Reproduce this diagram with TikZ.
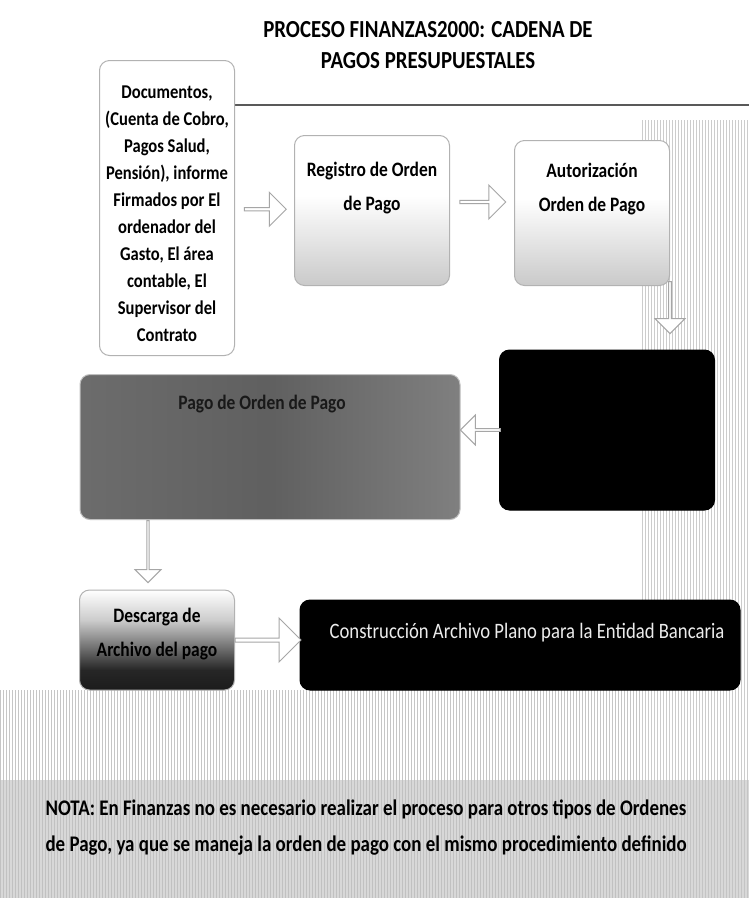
\documentclass[tikz,border=0pt]{standalone}
\usepackage{fontspec}
\setmainfont{Carlito}
\newfontfamily\cond[FakeStretch=0.85]{Carlito}
\usetikzlibrary{shapes.arrows,patterns,calc}
\pgfdeclareverticalshading{botgray}{100bp}{color(0bp)=(gray!75); color(30bp)=(gray!35); color(55bp)=(white); color(100bp)=(white)}
\pgfdeclareverticalshading{botblack}{100bp}{color(0bp)=(black); color(35bp)=(black!85); color(60bp)=(gray!40); color(75bp)=(white); color(100bp)=(white)}
\pgfdeclarehorizontalshading{mottled}{100bp}{color(0bp)=(gray!60); color(12bp)=(gray!90!black); color(50bp)=(gray!75!black); color(80bp)=(gray!95); color(100bp)=(gray!80!black)}
\tikzset{
  box/.style={draw=gray!60, line width=1pt, rounded corners=10pt, align=center, inner sep=4pt},
  harrow/.style={single arrow, draw=gray!70, fill=white, line width=1pt, minimum height=#1, single arrow head extend=5pt, inner sep=0pt, minimum width=34pt},
  smalltext/.style={font=\cond\bfseries\fontsize{19.5}{27}\selectfont},
  boxtext/.style={font=\cond\bfseries\fontsize{20.5}{34}\selectfont}
}
\begin{document}
\begin{tikzpicture}[x=1pt,y=-1pt]
\useasboundingbox (0,0) rectangle (749,898);
\fill[white] (0,0) rectangle (749,898);
% background streaks
\fill[pattern=vertical lines, pattern color=gray!40] (640,120) rectangle (749,898);
\fill[pattern=vertical lines, pattern color=gray!45] (0,690) rectangle (640,898);
\fill[gray!50, opacity=0.6] (0,780) rectangle (749,898);
% title
\node[font=\cond\bfseries\fontsize{24.5}{31}\selectfont, align=center] (title) at (428,45) {PROCESO FINANZAS2000: CADENA DE\\PAGOS PRESUPUESTALES};
\coordinate (lineL) at (235,105);
\coordinate (lineR) at (749,105);
\draw[gray!70!black, line width=2pt] (lineL) -- (lineR);
% box 1
\node[box, fill=white, minimum width=135pt, minimum height=295pt] (doc) at (167,208) {};
\node[smalltext, align=center, inner sep=0pt] (doct) at (167,214)
 {Documentos,\\(Cuenta de Cobro,\\Pagos Salud,\\Pensión), informe\\Firmados por El\\ordenador del\\Gasto, El área\\contable, El\\Supervisor del\\Contrato};
% box 2
\node[box, shading=botgray, minimum width=155pt, minimum height=150pt, anchor=north] (reg) at (372,135) {};
\node[boxtext, align=center] (regt) at (372,188) {Registro de Orden\\de Pago};
% box 3
\node[box, shading=botgray, minimum width=155pt, minimum height=145pt, anchor=north] (aut) at (592,140) {};
\node[boxtext, align=center] (autt) at (592,189) {Autorización\\Orden de Pago};
% black box
\node[box, draw=black, fill=black, minimum width=215pt, minimum height=160pt] (blk) at (607,430) {};
% gray box
\node[box, draw=gray!50, shading=mottled, minimum width=380pt, minimum height=145pt] (proc) at (270,447) {};
\node[boxtext, text=black!90, align=center] (proct) at (262,404) {Pago de Orden de Pago};
% descarga
\node[box, shading=botblack, minimum width=155pt, minimum height=100pt] (desc) at (157,640) {};
\node[boxtext, align=center] (desct) at (157,634) {Descarga de\\Archivo del pago};
% construccion
\node[box, draw=black, fill=black, minimum width=440pt, minimum height=90pt] (cons) at (520,645) {};
\node[font=\cond\fontsize{22}{24}\selectfont, text=white!85!gray] (const) at (527,633) {Construcción Archivo Plano para la Entidad Bancaria};
% arrows
\node[harrow=42pt] (a1) at ($(doc.east)!0.5!(reg.west)$) {};
\node[harrow=46pt] (a2) at (482,202) {};
\node[harrow=52pt, shape border rotate=270, minimum width=30pt] (a3) at (670,307) {};
\node[harrow=40pt, shape border rotate=180, minimum width=30pt] (a4) at (481,430) {};
\node[harrow=62pt, shape border rotate=270, minimum width=26pt] (a5) at (148,551) {};
\node[harrow=66pt, minimum width=44pt] (a6) at (267,640) {};
% note
\node[font=\cond\bfseries\fontsize{22.3}{36}\selectfont, anchor=west, align=left] (note) at (42,828) {NOTA: En Finanzas no es necesario realizar el proceso para otros tipos de Ordenes\\de Pago, ya que se maneja la orden de pago con el mismo procedimiento definido};
\end{tikzpicture}
\end{document}
